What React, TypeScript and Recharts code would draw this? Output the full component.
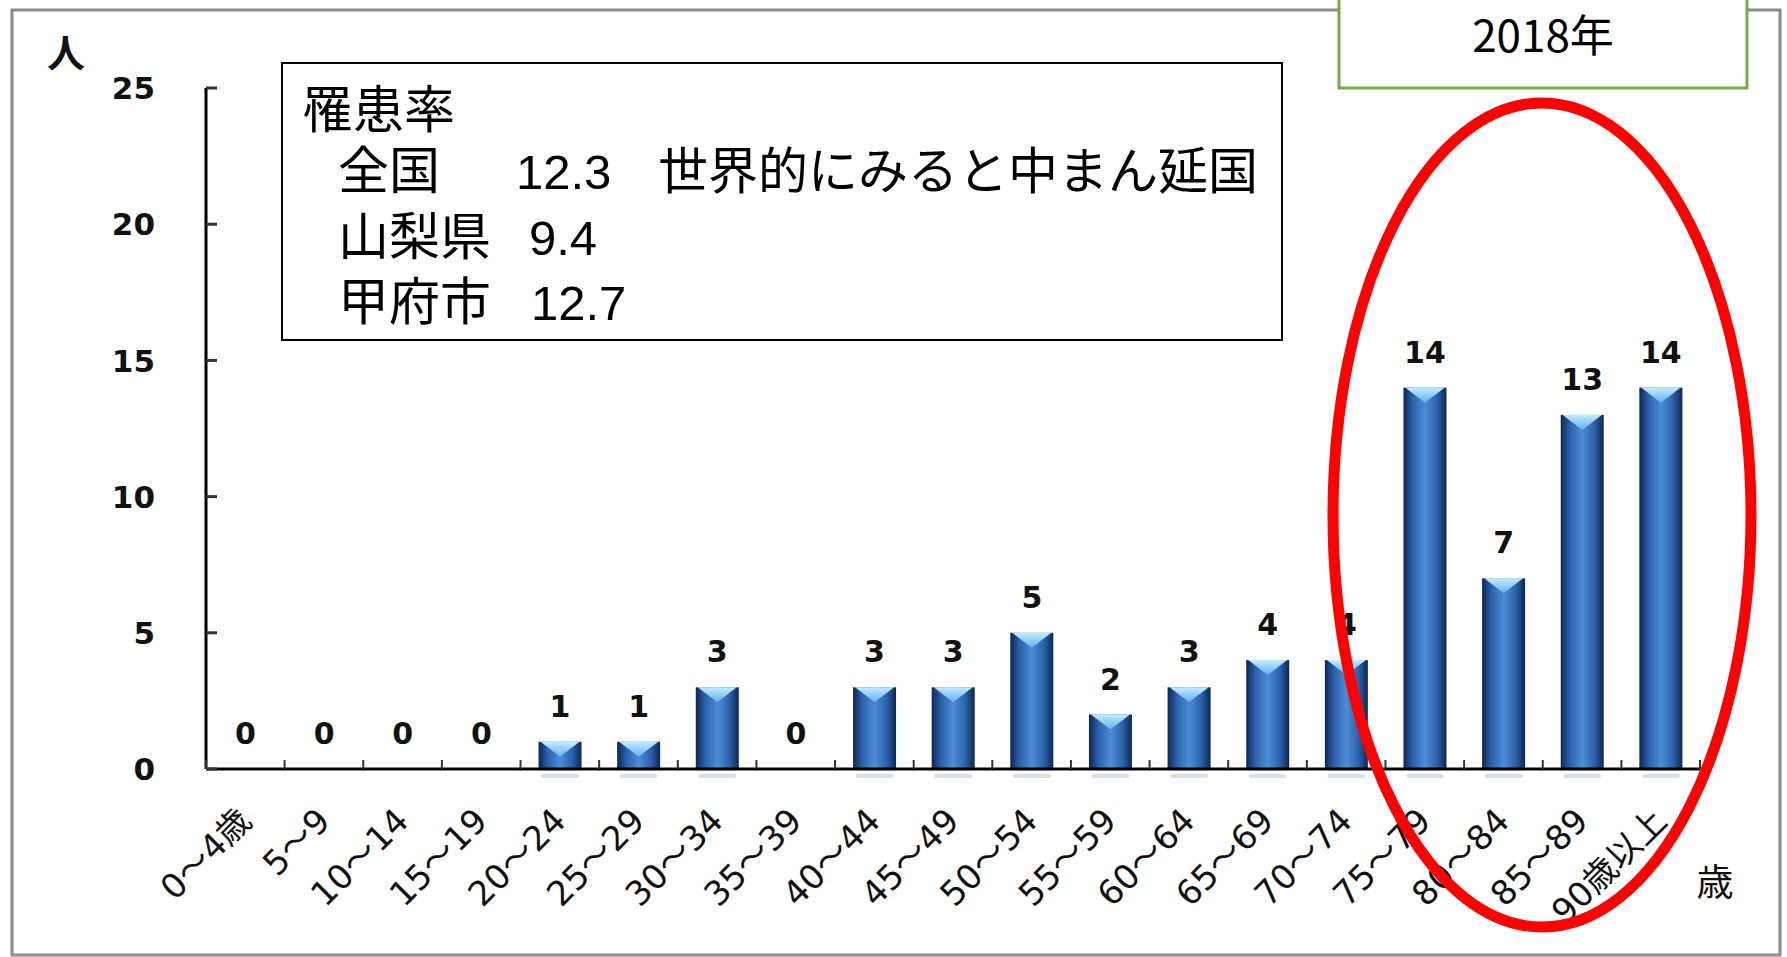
import React from "react";
import { BarChart, Bar, XAxis, YAxis, LabelList } from "recharts";

const categories = [
  "0～4歳", "5～9", "10～14", "15～19", "20～24", "25～29", "30～34", "35～39",
  "40～44", "45～49", "50～54", "55～59", "60～64", "65～69", "70～74", "75～79",
  "80～84", "85～89", "90歳以上",
];
const patients = [0, 0, 0, 0, 1, 1, 3, 0, 3, 3, 5, 2, 3, 4, 4, 14, 7, 13, 14];
const yTicks = [0, 5, 10, 15, 20, 25];

const data = categories.map((c, i) => ({ cat: c, v: patients[i] }));

const W = 1787;
const H = 957;
const JP = '"Noto Sans CJK JP", "Noto Sans", sans-serif';
const LBL = '"DejaVu Sans", "Noto Sans CJK JP", sans-serif';
const NUM = '"DejaVu Sans", "Noto Sans", sans-serif';
const BOX = '"Liberation Sans", "Noto Sans CJK JP", sans-serif';

const BarShape = (props: any) => {
  const { x, y, width, height, index } = props;
  if (!height || height <= 0) return null;
  const gid = `bg${index}`;
  const tid = `tg${index}`;
  const tri = Math.min(15, height);
  return (
    <g>
      <defs>
        <linearGradient id={gid} x1="0" y1="0" x2="1" y2="0">
          <stop offset="0%" stopColor="#0c2753" />
          <stop offset="22%" stopColor="#2c62ab" />
          <stop offset="50%" stopColor="#4d8cd6" />
          <stop offset="78%" stopColor="#2c62ab" />
          <stop offset="100%" stopColor="#0c2753" />
        </linearGradient>
        <linearGradient id={tid} x1="0" y1="0" x2="0" y2="1">
          <stop offset="0%" stopColor="#c4ecff" />
          <stop offset="100%" stopColor="#5fb0ea" />
        </linearGradient>
      </defs>
      <rect x={x} y={y} width={width} height={height} fill={`url(#${gid})`} />
      <polygon
        points={`${x + 2},${y} ${x + width - 2},${y} ${x + width / 2},${y + tri}`}
        fill={`url(#${tid})`}
      />
      <rect x={x + 3} y={y + height + 5} width={width - 6} height={4} fill="#a9bdd0" opacity={0.45} />
    </g>
  );
};

const YTick = (props: any) => {
  const { x, y, payload } = props;
  return (
    <g>
      <line x1={x} y1={y} x2={x + 11} y2={y} stroke="#333" strokeWidth={3} />
      <text x={x - 51} y={y} dy="0.36em" textAnchor="end" fontSize={31} fontWeight={700} fontFamily={NUM} fill="#111">
        {payload.value}
      </text>
    </g>
  );
};

const XTick = (props: any) => {
  const { x, y, payload, index } = props;
  const half = payload && payload.offset ? payload.offset : 39.3;
  const ax = x + 8;
  const ay = y + 54;
  return (
    <g>
      <line x1={x - half} y1={y} x2={x - half} y2={y - 9} stroke="#333" strokeWidth={2} />
      {index === categories.length - 1 ? (
        <line x1={x + half} y1={y} x2={x + half} y2={y - 9} stroke="#333" strokeWidth={2} />
      ) : null}
      <text
        x={ax}
        y={ay}
        textAnchor="end"
        transform={`rotate(-45, ${ax}, ${ay})`}
        fontSize={34}
        fontFamily={LBL}
        fill="#111"
      >
        {payload.value}
      </text>
    </g>
  );
};

export default function App() {
  return (
    <div style={{ position: "absolute", left: 0, top: 0, width: W, height: H, background: "#fff" }}>
      <BarChart
        width={W}
        height={H}
        data={data}
        margin={{ top: 88, right: 87, left: 146, bottom: 38 }}
        barCategoryGap={0}
      >
        <YAxis
          width={60}
          domain={[0, 25]}
          ticks={yTicks}
          interval={0}
          tickSize={0}
          tickMargin={0}
          tickLine={false}
          axisLine={{ stroke: "#000", strokeWidth: 3 }}
          tick={<YTick />}
        />
        <XAxis
          dataKey="cat"
          height={150}
          interval={0}
          tickSize={0}
          tickMargin={0}
          tickLine={false}
          axisLine={{ stroke: "#000", strokeWidth: 3 }}
          tick={<XTick />}
        />
        <Bar dataKey="v" barSize={43} shape={<BarShape />} isAnimationActive={false}>
          <LabelList
            dataKey="v"
            position="top"
            offset={25}
            style={{ fontSize: 30, fontWeight: 700, fontFamily: NUM, fill: "#111" }}
          />
        </Bar>
      </BarChart>
      <svg
        width={W}
        height={H}
        style={{ position: "absolute", left: 0, top: 0, pointerEvents: "none" }}
      >
        <rect x={12} y={10} width={1768} height={945} fill="none" stroke="#8a8a8a" strokeWidth={3} />
        <text x={66} y={53} textAnchor="middle" dy="0.36em" fontSize={38} fontWeight={700} fontFamily={JP} fill="#111">人</text>
        <text x={1715} y={883} textAnchor="middle" dy="0.36em" fontSize={37} fontFamily={JP} fill="#111">歳</text>
        <rect x={282} y={63} width={1000} height={277} fill="#fff" stroke="#000" strokeWidth={2} />
        <g fontFamily={BOX} fill="#000">
          <text x={302} y={128} fontSize={51}>罹患率</text>
          <text x={338} y={189} fontSize={51}>全国</text>
          <text x={516} y={189} fontSize={49}>12.3</text>
          <text x={658} y={189} fontSize={50}>世界的にみると中まん延国</text>
          <text x={338} y={255} fontSize={51}>山梨県</text>
          <text x={529} y={255} fontSize={49}>9.4</text>
          <text x={338} y={320} fontSize={51}>甲府市</text>
          <text x={531} y={320} fontSize={49}>12.7</text>
        </g>
        <rect x={1339} y={-10} width={408} height={98} fill="#fff" stroke="#70ad47" strokeWidth={3} />
        <text x={1543} y={36} textAnchor="middle" dy="0.36em" fontSize={44} fontFamily={JP} fill="#000">2018年</text>
        <ellipse cx={1542} cy={515} rx={209} ry={412} fill="none" stroke="#ff0000" strokeWidth={11} />
      </svg>
    </div>
  );
}
